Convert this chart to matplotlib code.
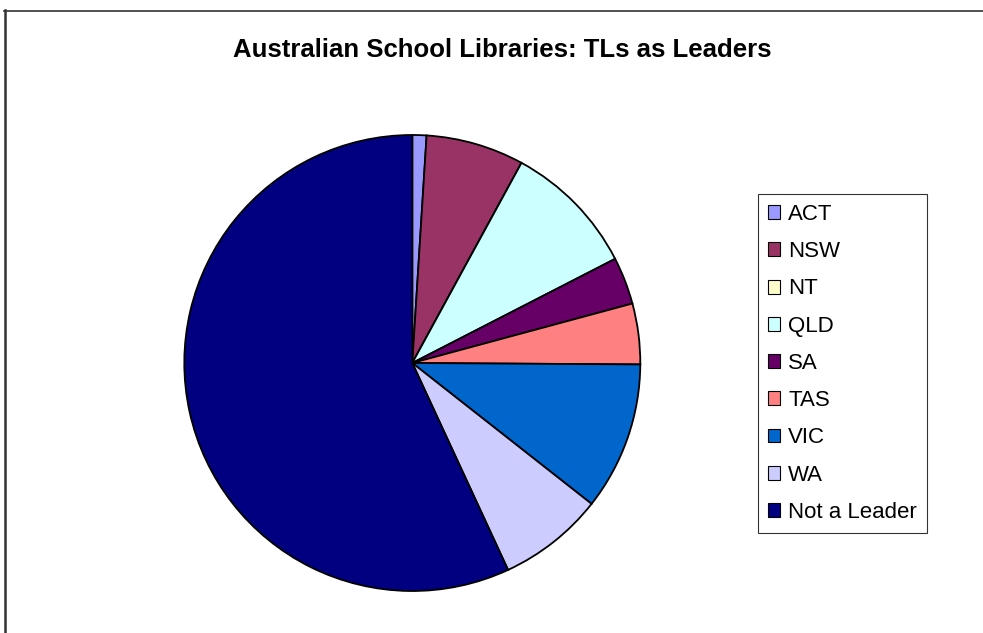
import matplotlib
matplotlib.use("Agg")
import matplotlib.pyplot as plt
from matplotlib.lines import Line2D
from matplotlib.patches import Patch

categories = ["ACT", "NSW", "NT", "QLD", "SA", "TAS", "VIC", "WA", "Not a Leader"]
values = [1.0, 6.95, 0.0, 9.5, 3.35, 4.3, 10.5, 7.5, 56.9]
colors = ["#9999FF", "#993366", "#FFFFCC", "#CCFFFF", "#660066",
          "#FF8080", "#0066CC", "#CCCCFF", "#000080"]
title = "Australian School Libraries: TLs as Leaders"

W, H = 983, 633
fig = plt.figure(figsize=(W / 100, H / 100), dpi=100)
plt.rcParams['font.family'] = ['Liberation Sans', 'DejaVu Sans']

# frame lines (top and left)
fig.add_artist(Line2D([4 / W, 1.0], [1 - 10.5 / H, 1 - 10.5 / H], transform=fig.transFigure,
                      color="#333333", lw=1.2))
fig.add_artist(Line2D([4.5 / W, 4.5 / W], [0, 1 - 10 / H], transform=fig.transFigure,
                      color="#333333", lw=1.8))

cx, cy, r = 412.3, 363.0, 228.0
lim = 1.05
half = r * lim
ax = fig.add_axes([(cx - half) / W, (H - cy - half) / H, 2 * half / W, 2 * half / H])
wedges, _ = ax.pie(values, colors=colors, startangle=90, counterclock=False,
                   wedgeprops=dict(edgecolor="black", linewidth=1.3))
ax.set_xlim(-lim, lim)
ax.set_ylim(-lim, lim)
ax.set_aspect("equal")
ax.axis("off")

fig.text(502 / W, 1 - 57.3 / H, title, ha="center", va="baseline",
         fontsize=18.5, fontweight="bold")

handles = [Patch(facecolor=c, edgecolor="black", linewidth=0.8) for c in colors]
leg = fig.legend(handles, categories, loc="upper left",
                 bbox_to_anchor=(757.5 / W, 1 - 194 / H),
                 fontsize=16, frameon=True, fancybox=False,
                 handlelength=0.58, handleheight=0.58, handletextpad=0.36,
                 labelspacing=0.73, borderpad=0.45, borderaxespad=0)
leg.get_frame().set_edgecolor("black")
leg.get_frame().set_linewidth(0.8)

fig.savefig("out.png", dpi=100, facecolor="white")
